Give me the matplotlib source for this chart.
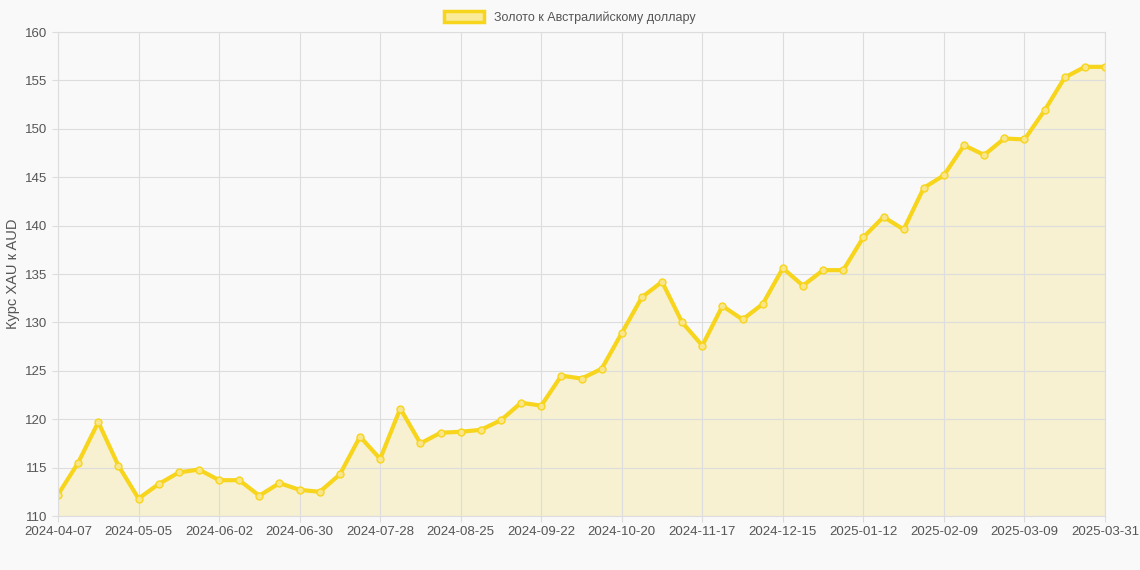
import matplotlib
matplotlib.use("Agg")
import matplotlib.pyplot as plt
import pandas as pd
from matplotlib.patches import Patch

plt.rcParams['font.family'] = ['Liberation Sans', 'DejaVu Sans']

values = [112.2,115.5,119.7,115.2,111.8,113.3,114.5,114.8,113.7,113.7,112.1,113.4,112.7,112.5,114.3,
          118.2,115.9,121.1,117.5,118.6,118.7,118.9,119.9,121.7,121.4,124.5,124.2,125.2,128.9,132.6,
          134.2,130.0,127.6,131.7,130.3,131.9,135.6,133.8,135.4,135.4,138.8,140.9,139.6,143.9,145.2,
          148.3,147.3,149.0,148.9,151.9,155.3,156.4,156.4]
dates = [d.strftime("%Y-%m-%d") for d in pd.date_range("2024-04-07", periods=len(values), freq="7D")]
dates[-1] = "2025-03-31"

x = list(range(len(values)))
fig = plt.figure(figsize=(11.4, 5.7), dpi=100)
fig.patch.set_facecolor("#f9f9f9")
ax = fig.add_axes([58/1140, 1-516/570, (1105-58)/1140, (516-32)/570])
ax.set_facecolor("#f9f9f9")
line_c = "#f7d51d"
ax.fill_between(x, values, 110, color="#f7ecb0", alpha=0.55, linewidth=0)
ax.plot(x, values, color=line_c, lw=3, marker="o", ms=5, mfc="#f9e58a", mec=line_c, mew=1)
ax.set_xlim(0, len(values)-1)
ax.set_ylim(110, 160)
ticks = sorted(set(list(range(0, len(values)-1, 4)) + [len(values)-1]))
ax.set_xticks(ticks)
ax.set_xticklabels([dates[t] for t in ticks])
ax.set_yticks(range(110, 161, 5))
ax.grid(True, color="#dddddd", lw=0.8)
for s in ax.spines.values():
    s.set_color("#dddddd")
ax.tick_params(colors="#555555", labelsize=9.5, length=4, color="#dddddd")
ax.set_ylabel("Курс XAU к AUD", color="#555555", fontsize=10.5)
leg = fig.legend(handles=[Patch(facecolor="#f9eb9a", edgecolor=line_c, lw=2.5, label="Золото к Австралийскому доллару")],
                 loc="upper center", bbox_to_anchor=(0.5, 1.0), frameon=False, fontsize=9,
                 handlelength=3.2, handleheight=0.9)
for t in leg.get_texts():
    t.set_color("#555555")
fig.savefig("out.png", dpi=100, facecolor=fig.get_facecolor())
